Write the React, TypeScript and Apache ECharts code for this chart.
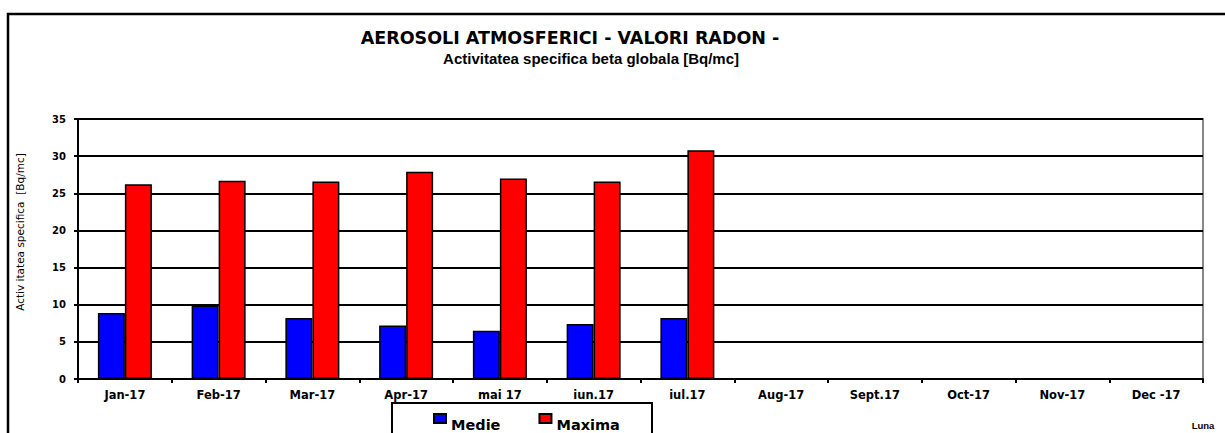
import React, { useEffect, useRef } from "react";
import * as echarts from "echarts";

const categories = ["Jan-17", "Feb-17", "Mar-17", "Apr-17", "mai 17", "iun.17", "iul.17", "Aug-17", "Sept.17", "Oct-17", "Nov-17", "Dec -17"];
const medie = [8.9, 9.9, 8.2, 7.2, 6.5, 7.4, 8.2, null, null, null, null, null];
const maxima = [26.2, 26.7, 26.6, 27.9, 27.0, 26.6, 30.8, null, null, null, null, null];
const yTicks = [0, 5, 10, 15, 20, 25, 30, 35];

export default function App() {
  const ref = useRef<HTMLDivElement>(null);
  useEffect(() => {
    const chart = echarts.init(ref.current!, null, { renderer: "svg" });
    const font = "Arial, 'Liberation Sans', sans-serif";
    const wide = "'DejaVu Sans', Arial, sans-serif";
    chart.setOption({
      animation: false,
      backgroundColor: "#fff",
      textStyle: { fontFamily: font },
      grid: { left: 78, top: 119, right: 22, bottom: 54, show: true, borderColor: "#888", borderWidth: 2, backgroundColor: "transparent" },
      legend: {
        left: 428,
        top: 408,
        itemWidth: 12,
        itemHeight: 21,
        itemGap: 38,
        icon: "path://M0,0L12,0L12,9L0,9Z M0,21",
        textStyle: { fontFamily: wide, fontWeight: "bold", fontSize: 14.5, color: "#000" },
        data: ["Medie", "Maxima"],
      },
      xAxis: {
        type: "category",
        data: categories,
        axisLine: { lineStyle: { color: "#000", width: 2 } },
        axisTick: { show: true, length: 4, lineStyle: { color: "#000", width: 2 } },
        axisLabel: { fontFamily: wide, fontWeight: "bold", fontSize: 11.5, color: "#000", margin: 10, interval: 0 },
      },
      yAxis: {
        type: "value",
        min: yTicks[0],
        max: yTicks[yTicks.length - 1],
        interval: 5,
        axisLine: { show: true, lineStyle: { color: "#000", width: 2 } },
        axisTick: { show: true, length: 4, lineStyle: { color: "#000", width: 2 } },
        axisLabel: { fontFamily: wide, fontWeight: "bold", fontSize: 10, color: "#000", margin: 12 },
        splitLine: { show: true, lineStyle: { color: "#000", width: 2 } },
      },
      series: [
        {
          name: "Medie",
          type: "bar",
          data: medie,
          barWidth: 27,
          barGap: "0%",
          itemStyle: { color: "#0000ff", borderColor: "#000", borderWidth: 1.5 },
        },
        {
          name: "Maxima",
          type: "bar",
          data: maxima,
          barWidth: 27,
          barGap: "0%",
          itemStyle: { color: "#ff0000", borderColor: "#000", borderWidth: 1.5 },
        },
      ],
      graphic: [
        { type: "rect", shape: { x: 8, y: 14, width: 1400, height: 600 }, style: { fill: "none", stroke: "#000", lineWidth: 2.5 }, silent: true },
        { type: "rect", shape: { x: 392, y: 403, width: 260, height: 60 }, style: { fill: "none", stroke: "#000", lineWidth: 2 }, silent: true, z: -1 },
        { type: "text", x: 570, y: 38, style: { text: "AEROSOLI ATMOSFERICI - VALORI RADON -", font: "bold 17.5px " + wide, fill: "#000", textAlign: "center", textVerticalAlign: "middle" } },
        { type: "text", x: 591, y: 58, style: { text: "Activitatea specifica beta globala [Bq/mc]", font: "bold 15px " + font, fill: "#000", textAlign: "center", textVerticalAlign: "middle" } },
        { type: "text", x: 20, y: 232, rotation: Math.PI / 2, style: { text: "Activ itatea specifica  [Bq/mc]", font: "10.5px " + wide, fill: "#000", textAlign: "center", textVerticalAlign: "middle" } },
        { type: "text", x: 1203, y: 425, style: { text: "Luna", font: "bold 9.5px " + font, fill: "#000", textAlign: "center", textVerticalAlign: "middle" } },
      ],
    });
    return () => chart.dispose();
  }, []);
  return <div ref={ref} style={{ position: "fixed", left: 0, top: 0, width: 1225, height: 433 }} />;
}
